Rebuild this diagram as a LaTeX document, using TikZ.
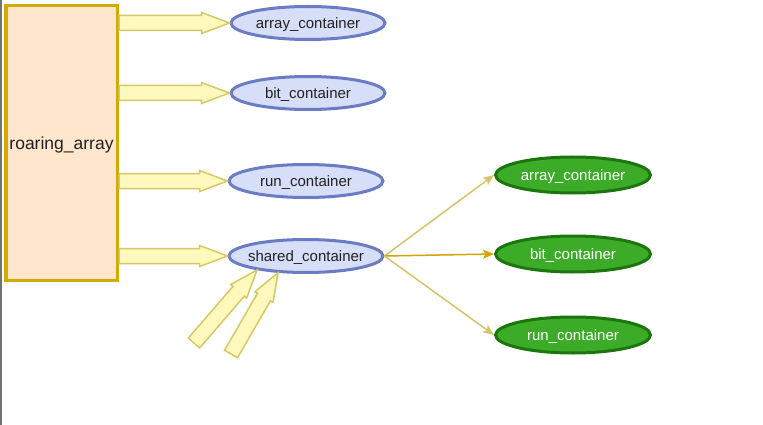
\documentclass[tikz,border=0pt]{standalone}
\usepackage{fontspec}
\setmainfont{Liberation Sans}
\usetikzlibrary{arrows.meta,calc,shapes.geometric}
\definecolor{goldB}{RGB}{212,170,0}
\definecolor{peach}{RGB}{255,230,204}
\definecolor{blueF}{RGB}{214,222,248}
\definecolor{blueD}{RGB}{108,124,196}
\definecolor{greenF}{RGB}{60,172,40}
\definecolor{greenD}{RGB}{28,118,14}
\definecolor{flexF}{RGB}{255,249,190}
\definecolor{flexD}{RGB}{214,200,100}
\definecolor{lineC}{RGB}{214,196,106}
\definecolor{lineM}{RGB}{212,164,0}
\definecolor{txt}{RGB}{34,34,34}
\tikzset{
  rabox/.style={rectangle, draw=goldB, fill=peach, line width=3.5pt,
    minimum width=111.5pt, minimum height=274.5pt, inner sep=0pt,
    text depth=0pt, font=\fontsize{17.5}{20}\selectfont, text=txt},
  bluenode/.style={ellipse, draw=blueD, fill=blueF, line width=3pt,
    minimum width=154pt, minimum height=33pt, inner ysep=0pt, inner xsep=-20pt,
    text depth=0pt, font=\fontsize{15}{18}\selectfont, text=txt},
  greennode/.style={ellipse, draw=greenD, fill=greenF, line width=3pt,
    minimum width=155pt, minimum height=36pt, inner ysep=0pt, inner xsep=-20pt,
    text depth=0pt, font=\fontsize{15}{18}\selectfont, text=white},
  flexarr/.style={draw=flexD, fill=flexF, line width=1.5pt, line join=miter},
  thinarr/.style={draw=lineC, line width=1.5pt,
    -{Stealth[length=11pt,width=9pt,inset=2.5pt]}},
  thinmid/.style={thinarr, draw=lineM}
}
\newcommand\flexarrow[2]{%
  \pgfmathanglebetweenpoints{\pgfpointanchor{#1}{center}}{\pgfpointanchor{#2}{center}}%
  \let\faang\pgfmathresult
  \pgfpointdiff{\pgfpointanchor{#1}{center}}{\pgfpointanchor{#2}{center}}%
  \pgfgetlastxy{\fadx}{\fady}%
  \pgfmathsetmacro\falen{veclen(\fadx,\fady)}%
  \draw[flexarr, shift={(#1)}, rotate=\faang]
    (0pt,-7.5pt) -- ({\falen pt-28pt},-7.5pt) -- ({\falen pt-28pt},-10.5pt)
    -- (\falen pt,0pt) -- ({\falen pt-28pt},10.5pt) -- ({\falen pt-28pt},7.5pt)
    -- (0pt,7.5pt) -- cycle;
}
\begin{document}
\begin{tikzpicture}[x=1pt,y=-1pt]
\useasboundingbox (0,0) rectangle (763,425);
\fill[white] (0,0) rectangle (763,425);
\draw[black!55, line width=1.5pt] (0.75,0) -- (0.75,425);

\node[rabox] (ra) at (61.5,143) {roaring\_array};

\node[bluenode] (b1) at (308,23) {array\_container};
\node[bluenode] (b2) at (308,93) {bit\_container};
\node[bluenode] (b3) at (306,181) {run\_container};
\node[bluenode] (sc) at (306,256) {shared\_container};

\node[greennode] (g1) at (573,175) {array\_container};
\node[greennode] (g2) at (573,254) {bit\_container};
\node[greennode] (g3) at (573,335) {run\_container};

\coordinate (s1) at (ra.east |- b1.west);
\coordinate (s2) at (ra.east |- b2.west);
\coordinate (s3) at (ra.east |- b3.west);
\coordinate (s4) at (ra.east |- sc.west);
\coordinate (e1) at (b1.west);
\coordinate (e2) at (b2.west);
\coordinate (e3) at (b3.west);
\coordinate (e4) at (sc.west);
\flexarrow{s1}{e1}
\flexarrow{s2}{e2}
\flexarrow{s3}{e3}
\flexarrow{s4}{e4}

\coordinate (ta) at (194,343);
\coordinate (tb) at (231,354);
\coordinate (ha) at (sc.196);
\coordinate (hb) at (sc.211);
\flexarrow{ta}{ha}
\flexarrow{tb}{hb}

\draw[thinarr] (sc.east) -- (g1.west);
\draw[thinmid] (sc.east) -- (g2.west);
\draw[thinarr] (sc.east) -- (g3.west);
\end{tikzpicture}
\end{document}
